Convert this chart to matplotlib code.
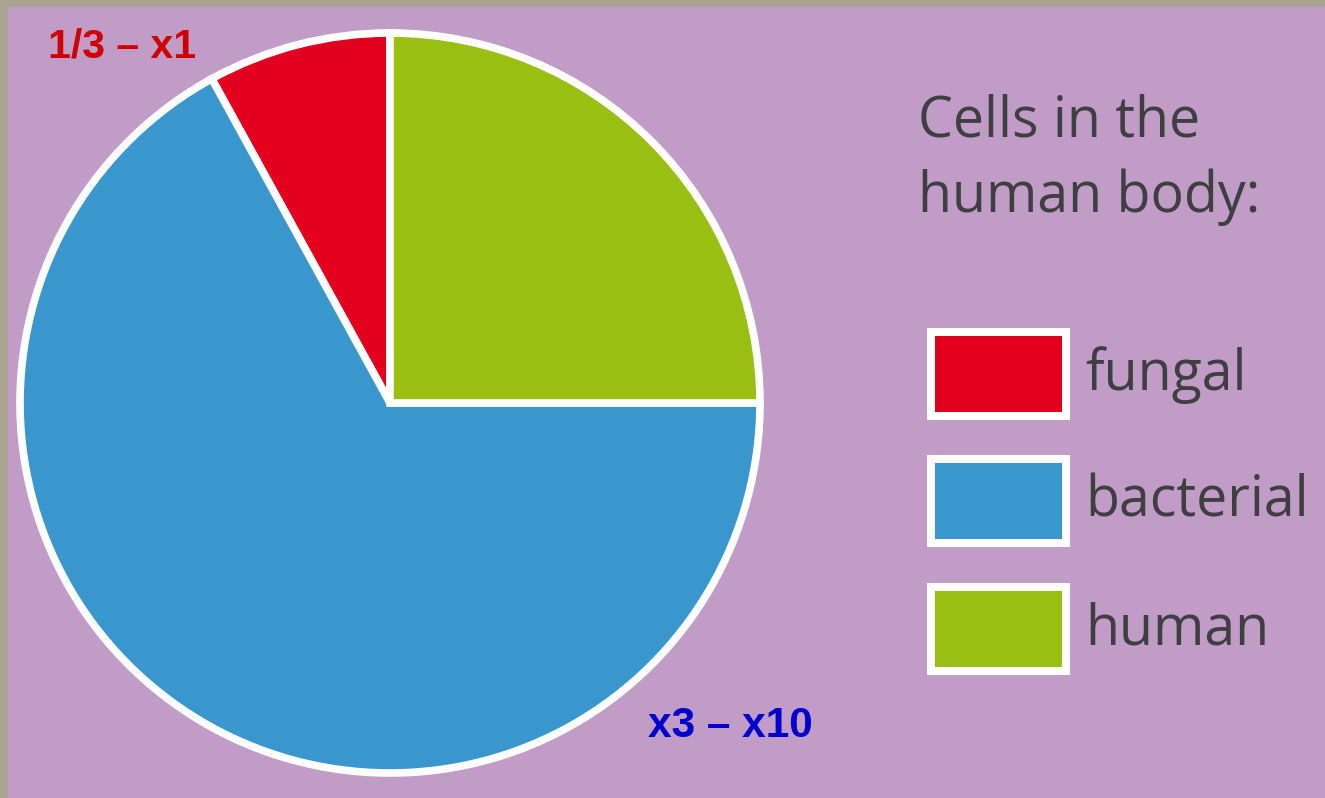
import matplotlib.pyplot as plt
from matplotlib.patches import Rectangle

# data
categories = ['fungal', 'bacterial', 'human']
shares = [8, 67, 25]
colors = ['#E2001E', '#3A97CE', '#99BF12']
title_lines = ['Cells in the', 'human body:']
fungal_note = '1/3 \u2013 x1'
bacterial_note = 'x3 \u2013 x10'

W, H = 1325, 798
fig = plt.figure(figsize=(W / 100, H / 100), dpi=100)
fig.patch.set_facecolor('#A9A48F')
ax = fig.add_axes([0, 0, 1, 1])
ax.set_xlim(0, W)
ax.set_ylim(0, H)
ax.axis('off')

# purple panel (photo border shows at left and top)
ax.add_patch(Rectangle((8, 0), W - 8, H - 7, facecolor='#C09CC7', edgecolor='none', zorder=0))

# pie, pixel coordinates with y going up
ax.pie(shares, colors=colors, startangle=90, counterclock=True,
       center=(390, H - 403), radius=370,
       wedgeprops=dict(edgecolor='white', linewidth=5.5, joinstyle='miter'))
ax.set_xlim(0, W)
ax.set_ylim(0, H)
ax.set_aspect('equal')

txt_font = ['Open Sans', 'DejaVu Sans']
txt_color = '#3F3F42'

for i, line in enumerate(title_lines):
    ax.text(918, H - (122 + i * 75), line, fontsize=40, family=txt_font,
            color=txt_color, va='center', ha='left')

box_tops = [328, 455, 583]
for cat, col, top in zip(categories, colors, box_tops):
    ax.add_patch(Rectangle((927, H - top - 92), 143, 92, facecolor='white', edgecolor='none'))
    ax.add_patch(Rectangle((935, H - top - 84), 127, 76, facecolor=col, edgecolor='none'))
    ax.text(1085, H - (top + 47), cat, fontsize=40, family=txt_font,
            color=txt_color, va='center', ha='left')

label_font = ['Liberation Sans', 'DejaVu Sans']
ax.text(48, H - 46, fungal_note, fontsize=29.5, fontweight='bold', family=label_font,
        color='#D00000', va='center', ha='left')
ax.text(648, H - 726, bacterial_note, fontsize=30.5, fontweight='bold', family=label_font,
        color='#0000CC', va='center', ha='left')

fig.savefig('out.png', dpi=100, facecolor=fig.get_facecolor())
